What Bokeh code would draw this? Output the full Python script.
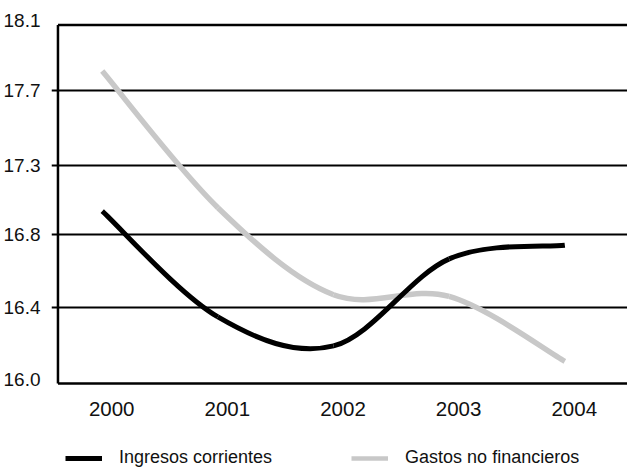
import numpy as np
from bokeh.plotting import figure
from bokeh.layouts import column
from bokeh.models import ColumnDataSource, FixedTicker, Legend, LegendItem, Range1d
from bokeh.embed import file_html
from bokeh.resources import INLINE

# Series (% of GDP)
years = [2000, 2001, 2002, 2003, 2004]
ingresos = [17.01, 16.39, 16.22, 16.73, 16.81]
gastos = [17.83, 17.03, 16.52, 16.51, 16.13]

# Value axis labels and the levels they sit on
y_tick_labels = ["16.0", "16.4", "16.8", "17.3", "17.7", "18.1"]
y_tick_levels = [16.0, 16.4434, 16.8711, 17.2788, 17.7164, 18.1]
x_tick_labels = [str(y) for y in years]
series_names = ["Ingresos corrientes", "Gastos no financieros"]
series_colors = ["black", "#c8c8c8"]

# Layout (pixels)
W, H = 627, 468
MAIN_H = 426
FRAME_L, FRAME_T, FRAME_B = 48, 20, 388
PX_YEAR0, PX_PER_YEAR = 99.0, 116.25
PX_Y16, PX_Y181 = 383.0, 24.5
PX_AXIS = 54.5

ppu = (PX_Y16 - PX_Y181) / (18.1 - 16.0)
y_lo, y_hi = 16.0, 18.1
y_start = y_lo - (FRAME_B - PX_Y16) / ppu
y_end = y_hi + (PX_Y181 - FRAME_T) / ppu
x_start = years[0] - (PX_YEAR0 - FRAME_L) / PX_PER_YEAR
x_end = years[0] + (W - PX_YEAR0) / PX_PER_YEAR
x_axis = years[0] - (PX_YEAR0 - PX_AXIS) / PX_PER_YEAR


def smooth_segments(xs, ys):
    """Cubic Bezier pieces through every point (Catmull-Rom style tangents)."""
    xs = np.asarray(xs, float)
    ys = np.asarray(ys, float)
    n = len(xs)
    px = np.concatenate([[xs[0]], xs, [xs[-1]]])
    py = np.concatenate([[ys[0]], ys, [ys[-1]]])
    return dict(
        x0=px[1:n], y0=py[1:n],
        x1=px[2:n + 1], y1=py[2:n + 1],
        cx0=px[1:n] + (px[2:n + 1] - px[0:n - 1]) / 6,
        cy0=py[1:n] + (py[2:n + 1] - py[0:n - 1]) / 6,
        cx1=px[2:n + 1] - (px[3:n + 2] - px[1:n]) / 6,
        cy1=py[2:n + 1] - (py[3:n + 2] - py[1:n]) / 6,
    )


p = figure(
    width=W, height=MAIN_H,
    output_backend="svg", toolbar_location=None,
    x_range=Range1d(x_start, x_end), y_range=Range1d(y_start, y_end),
    min_border_left=FRAME_L, min_border_right=0,
    min_border_top=FRAME_T, min_border_bottom=MAIN_H - FRAME_B,
)
p.outline_line_color = None
p.background_fill_color = "white"
p.border_fill_color = "white"

FONT = "Liberation Sans"
INK = "#111111"

# Value axis: labels only, the rules are drawn as grid and segments
label_shift = 4.2 / ppu
y_label_pos = [v + label_shift if v in (y_lo, y_hi) else v for v in y_tick_levels]
p.yaxis.ticker = FixedTicker(ticks=y_label_pos)
p.yaxis.major_label_overrides = {v: t for v, t in zip(y_label_pos, y_tick_labels)}
p.yaxis.axis_line_color = None
p.yaxis.major_tick_line_color = None
p.yaxis.minor_tick_line_color = None
p.yaxis.major_label_standoff = 5
p.yaxis.major_label_text_font = FONT
p.yaxis.major_label_text_font_size = "19px"
p.yaxis.major_label_text_color = INK

# Year axis: labels only
x_label_offset = 9.5 / PX_PER_YEAR
x_label_pos = [y + x_label_offset for y in years]
p.xaxis.ticker = FixedTicker(ticks=x_label_pos)
p.xaxis.major_label_overrides = {v: t for v, t in zip(x_label_pos, x_tick_labels)}
p.xaxis.axis_line_color = None
p.xaxis.major_tick_line_color = None
p.xaxis.minor_tick_line_color = None
p.xaxis.major_tick_out = 0
p.xaxis.major_label_standoff = 13
p.xaxis.major_label_text_font = FONT
p.xaxis.major_label_text_font_size = "20.5px"
p.xaxis.major_label_text_color = INK

# Inner horizontal rules (with their small outward stubs)
p.xgrid.grid_line_color = None
p.ygrid.ticker = FixedTicker(ticks=y_tick_levels[1:-1])
p.ygrid.grid_line_color = "black"
p.ygrid.grid_line_width = 2.2

# Frame: top rule, baseline and left spine
p.segment(x0=[x_axis, x_axis], y0=[y_hi, y_lo], x1=[x_end, x_end], y1=[y_hi, y_lo],
          line_color="black", line_width=2.3)
p.segment(x0=[x_axis], y0=[y_lo], x1=[x_axis], y1=[y_hi],
          line_color="black", line_width=2.5)

# Smoothed series
p.bezier(source=ColumnDataSource(smooth_segments(years, gastos)),
         x0="x0", y0="y0", x1="x1", y1="y1",
         cx0="cx0", cy0="cy0", cx1="cx1", cy1="cy1",
         line_color=series_colors[1], line_width=5.5)
p.bezier(source=ColumnDataSource(smooth_segments(years, ingresos)),
         x0="x0", y0="y0", x1="x1", y1="y1",
         cx0="cx0", cy0="cy0", cx1="cx1", cy1="cy1",
         line_color=series_colors[0], line_width=5)

# Legend strip underneath the chart (its key lines sit outside the visible range)
LEG_H = H - MAIN_H
leg = figure(
    width=W, height=LEG_H,
    output_backend="svg", toolbar_location=None,
    x_range=Range1d(0, 1), y_range=Range1d(0, 1),
    x_axis_type=None, y_axis_type=None, min_border=0,
)
leg.outline_line_color = None
leg.grid.visible = False
leg.background_fill_color = "white"
leg.border_fill_color = "white"
keys = [
    leg.line(x=[5, 6], y=[5, 6], line_color=series_colors[0], line_width=5),
    leg.line(x=[5, 6], y=[5, 6], line_color=series_colors[1], line_width=4.5),
]
legend = Legend(
    items=[LegendItem(label=n, renderers=[r]) for n, r in zip(series_names, keys)],
    orientation="horizontal",
    location=(14, 0),
    glyph_width=37, glyph_height=20, label_height=20,
    label_standoff=17, spacing=79, padding=0, margin=0,
    border_line_color=None, background_fill_alpha=0,
    label_text_font=FONT, label_text_font_size="18px", label_text_color=INK,
)
leg.add_layout(legend)

open("out.html", "w").write(file_html(column(p, leg, spacing=0), INLINE))
